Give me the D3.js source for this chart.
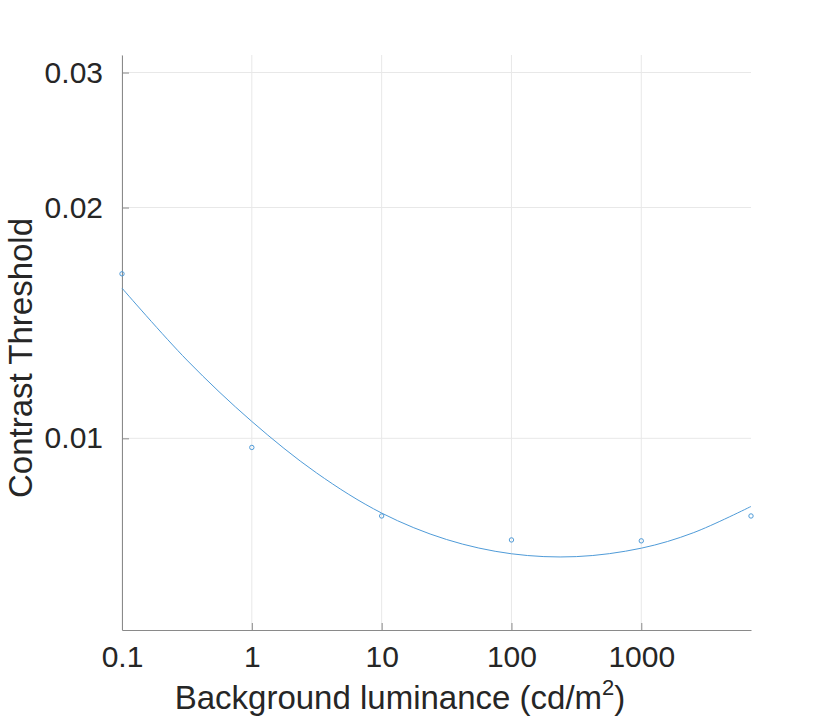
<!DOCTYPE html>
<html>
<head>
<meta charset="utf-8">
<script src="https://cdn.jsdelivr.net/npm/d3@7"></script>
<style>
  html, body { margin: 0; padding: 0; background: #fff; }
  svg { display: block; }
  text { font-family: "Liberation Sans", Arial, sans-serif; fill: #262626; }
</style>
</head>
<body>
<svg id="chart" width="830" height="727"></svg>
<script>
// Measured data points (luminance, contrast threshold)
const luminance = [0.1, 1, 10, 100, 1000, 7000];
const threshold = [0.01639, 0.00973, 0.00792, 0.00737, 0.00735, 0.00792];

// Fitted curve
const fitLuminance = [0.1, 0.316, 1, 3.16, 10, 31.6, 100, 316, 1000, 2512, 7000];
const fitThreshold = [0.01570, 0.01265, 0.01052, 0.00901, 0.00799, 0.00738, 0.00707, 0.00701, 0.00719, 0.00753, 0.00815];

const xTicks = [0.1, 1, 10, 100, 1000];
const xTickLabels = ["0.1", "1", "10", "100", "1000"];
const yTicks = [0.01, 0.02, 0.03];
const yTickLabels = ["0.01", "0.02", "0.03"];

const xDomain = [0.1, 7000];
const yDomain = [Math.pow(10, -2.25), Math.pow(10, -1.5)];

const margin = { left: 122, right: 79, top: 55, bottom: 97 };
const W = 830, H = 727;

const svg = d3.select("#chart");
const x = d3.scaleLog().domain(xDomain).range([margin.left, W - margin.right]);
const y = d3.scaleLog().domain(yDomain).range([H - margin.bottom, margin.top]);

const blue = "#4f9bd8";
const gridColor = "#e8e8e8";
const axisColor = "#8a8a8a";

// Grid
const grid = svg.append("g");
grid.selectAll(".gx").data(xTicks).join("line")
  .attr("x1", d => x(d)).attr("x2", d => x(d))
  .attr("y1", y.range()[0]).attr("y2", y.range()[1])
  .attr("stroke", gridColor).attr("stroke-width", 1);
grid.selectAll(".gy").data(yTicks).join("line")
  .attr("x1", x.range()[0]).attr("x2", x.range()[1])
  .attr("y1", d => y(d)).attr("y2", d => y(d))
  .attr("stroke", gridColor).attr("stroke-width", 1);

// Axes
const xAxis = d3.axisBottom(x).tickValues(xTicks)
  .tickFormat((d, i) => xTickLabels[i]).tickSizeInner(-7).tickSizeOuter(0).tickPadding(16);
const gx = svg.append("g").attr("transform", `translate(0,${y.range()[0]})`).call(xAxis);
gx.select(".domain").attr("stroke", axisColor);
gx.selectAll(".tick line").attr("stroke", axisColor);
gx.selectAll(".tick text").attr("font-size", 30).attr("fill", "#262626")
  .attr("font-family", "Liberation Sans, Arial, sans-serif");

const yAxis = d3.axisLeft(y).tickValues(yTicks)
  .tickFormat((d, i) => yTickLabels[i]).tickSizeInner(-7).tickSizeOuter(0).tickPadding(19);
const gy = svg.append("g").attr("transform", `translate(${x.range()[0]},0)`).call(yAxis);
gy.select(".domain").attr("stroke", axisColor);
gy.selectAll(".tick line").attr("stroke", axisColor);
gy.selectAll(".tick text").attr("font-size", 30).attr("fill", "#262626")
  .attr("font-family", "Liberation Sans, Arial, sans-serif");

// Fitted curve
const fit = fitLuminance.map((d, i) => [d, fitThreshold[i]]);
svg.append("path")
  .datum(fit)
  .attr("fill", "none")
  .attr("stroke", blue)
  .attr("stroke-width", 1)
  .attr("d", d3.line().x(d => x(d[0])).y(d => y(d[1])).curve(d3.curveCatmullRom));

// Data points
svg.append("g").selectAll("circle")
  .data(luminance.map((d, i) => [d, threshold[i]]))
  .join("circle")
  .attr("cx", d => x(d[0])).attr("cy", d => y(d[1]))
  .attr("r", 2.2)
  .attr("fill", "none").attr("stroke", blue).attr("stroke-width", 1);

// Axis titles
const xt = svg.append("text")
  .attr("x", 400).attr("y", 709)
  .attr("text-anchor", "middle")
  .attr("font-size", 33);
xt.append("tspan").text("Background luminance (cd/m");
xt.append("tspan").attr("font-size", 22).attr("dy", -14).text("2");
xt.append("tspan").attr("dy", 14).text(")");

svg.append("text")
  .attr("transform", `translate(32,358) rotate(-90)`)
  .attr("text-anchor", "middle")
  .attr("font-size", 33)
  .text("Contrast Threshold");
</script>
</body>
</html>
